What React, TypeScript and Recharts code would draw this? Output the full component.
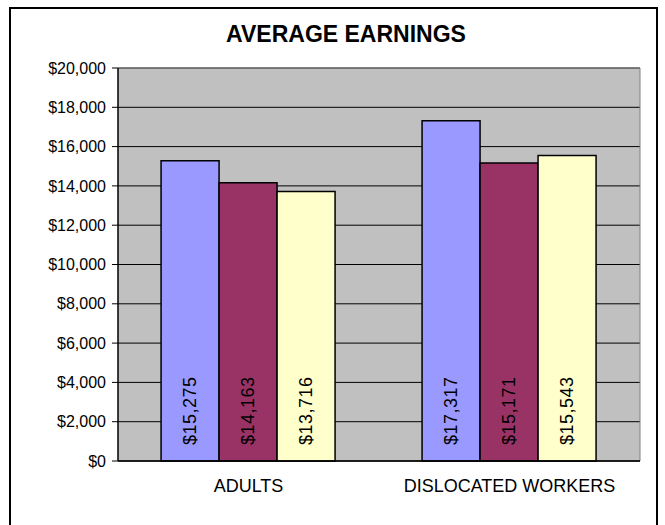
import { Bar, BarChart, CartesianGrid, LabelList, ReferenceLine, XAxis, YAxis } from "recharts"

const categories = ["ADULTS", "DISLOCATED WORKERS"]
const seriesA = [15275, 17317]
const seriesB = [14163, 15171]
const seriesC = [13716, 15543]
const yTicks = [0, 2000, 4000, 6000, 8000, 10000, 12000, 14000, 16000, 18000, 20000]

const data = categories.map((name, i) => ({
  name,
  a: seriesA[i],
  b: seriesB[i],
  c: seriesC[i],
}))

const money = (v: number) => `$${v.toLocaleString("en-US")}`

const font = "'Liberation Sans', Arial, sans-serif"

// vertical value label sitting near the bottom of each bar
const VerticalLabel = (props: any) => {
  const { x, y, width, height, value } = props
  const cx = x + width / 2
  const by = y + height - 16
  return (
    <text
      x={cx}
      y={by}
      transform={`rotate(-90 ${cx} ${by})`}
      textAnchor="start"
      dominantBaseline="central"
      fontSize={18}
      letterSpacing={0.5}
      fontFamily={font}
      fill="#000"
    >
      {money(value)}
    </text>
  )
}

export default function App() {
  return (
    <div style={{ position: "absolute", left: 0, top: 0, width: 665, height: 525, background: "#fff", overflow: "hidden" }}>
      <div
        style={{
          position: "absolute",
          left: 9,
          top: 7,
          width: 649,
          height: 540,
          border: "2px solid #000",
          boxSizing: "border-box",
        }}
      />
      <div
        style={{
          position: "absolute",
          left: 0,
          width: 692,
          top: 21,
          textAlign: "center",
          fontFamily: font,
          fontWeight: "bold",
          fontSize: 23,
          color: "#000",
        }}
      >
        AVERAGE EARNINGS
      </div>
      <div style={{ position: "absolute", left: 0, top: 0 }}>
        <BarChart
          width={665}
          height={525}
          data={data}
          margin={{ top: 68, right: 25, left: 0, bottom: 34 }}
          barCategoryGap="16.5%"
          barGap={0}
        >
          <CartesianGrid vertical={false} stroke="#000" fill="#C0C0C0" fillOpacity={1} />
          <CartesianGrid horizontal={false} verticalPoints={[640]} stroke="#808080" />
          <ReferenceLine y={20000} stroke="#808080" />
          <XAxis
            xAxisId="edge"
            type="number"
            domain={[0, 2]}
            ticks={[0, 1, 2]}
            tick={false}
            tickSize={6}
            tickLine={{ stroke: "#000" }}
            axisLine={false}
            height={0}
          />
          <XAxis
            dataKey="name"
            tickLine={false}
            axisLine={{ stroke: "#000", strokeWidth: 1.5 }}
            tick={{ fontSize: 18, fontFamily: font, fill: "#000" }}
            tickMargin={12}
            height={30}
          />
          <YAxis
            width={118}
            domain={[0, 20000]}
            ticks={yTicks}
            tickFormatter={money}
            tickSize={6}
            tickMargin={6}
            tickLine={{ stroke: "#000" }}
            axisLine={{ stroke: "#000", strokeWidth: 1.5 }}
            tick={{ fontSize: 16, fontFamily: font, fill: "#000" }}
          />
          <Bar dataKey="a" fill="#9999FF" stroke="#000" strokeWidth={1.5} isAnimationActive={false}>
            <LabelList dataKey="a" content={VerticalLabel} />
          </Bar>
          <Bar dataKey="b" fill="#993366" stroke="#000" strokeWidth={1.5} isAnimationActive={false}>
            <LabelList dataKey="b" content={VerticalLabel} />
          </Bar>
          <Bar dataKey="c" fill="#FFFFCC" stroke="#000" strokeWidth={1.5} isAnimationActive={false}>
            <LabelList dataKey="c" content={VerticalLabel} />
          </Bar>
        </BarChart>
      </div>
    </div>
  )
}
